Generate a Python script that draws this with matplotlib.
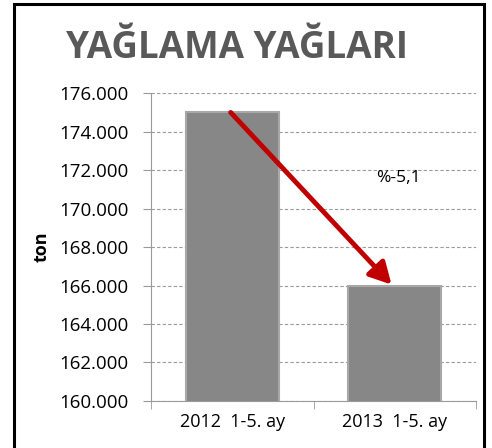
import matplotlib
matplotlib.use("Agg")
import matplotlib.pyplot as plt
from matplotlib.patches import Rectangle

categories = ["2012  1-5. ay", "2013  1-5. ay"]
values = [175000, 166000]
yticks = [160000, 162000, 164000, 166000, 168000, 170000, 172000, 174000, 176000]
ytick_labels = ["160.000", "162.000", "164.000", "166.000", "168.000",
                "170.000", "172.000", "174.000", "176.000"]
change_label = "%-5,1"

plt.rcParams["font.family"] = ["Open Sans", "DejaVu Sans"]

fig = plt.figure(figsize=(4.92, 4.48), dpi=100)
ax = fig.add_axes([0.307, 0.105, 0.6605, 0.687])

x = range(len(categories))
ax.bar(x, values, width=0.57, color="#878787", edgecolor="#a8a8a8",
       linewidth=1.5, zorder=3)

ax.set_ylim(160000, 176000)
ax.set_xlim(-0.5, 1.5)
ax.set_yticks(yticks)
ax.set_yticklabels(ytick_labels, fontsize=13.5)
ax.set_xticks(list(x))
ax.set_xticklabels(categories, fontsize=13)
ax.set_xticks([-0.5, 0.5, 1.5], minor=True)
ax.tick_params(axis="x", which="major", length=0, pad=9)
ax.tick_params(axis="x", which="minor", length=6, color="#9a9a9a")
ax.tick_params(axis="y", length=6, color="#9a9a9a", pad=10)

ax.grid(axis="y", linestyle=(0, (3, 2)), color="#9a9a9a", linewidth=0.8, zorder=0)
for s in ["top", "right"]:
    ax.spines[s].set_visible(False)
ax.spines["left"].set_color("#9a9a9a")
ax.spines["bottom"].set_color("#9a9a9a")

ax.set_ylabel("ton", fontsize=13, fontweight="bold", labelpad=6)

ax.annotate("", xy=(0.98, values[1] + 50), xytext=(-0.01, values[0]),
            arrowprops=dict(arrowstyle="-|>,head_length=1.3,head_width=0.7",
                            color="#c00000", lw=3.5, shrinkA=0, shrinkB=0),
            zorder=5)
ax.text(1.02, 171600, change_label, fontsize=12.5, ha="center", va="center",
        zorder=6)

fig.text(0.482, 0.893, "YAĞLAMA YAĞLARI", fontsize=26.5, fontweight="bold",
         color="#595959", ha="center", va="center")

fig.patches.append(Rectangle((14 / 492, -0.05), 470 / 492, 1.0411,
                             transform=fig.transFigure, fill=False,
                             edgecolor="black", linewidth=2.2))

fig.savefig("out.png", dpi=100)
